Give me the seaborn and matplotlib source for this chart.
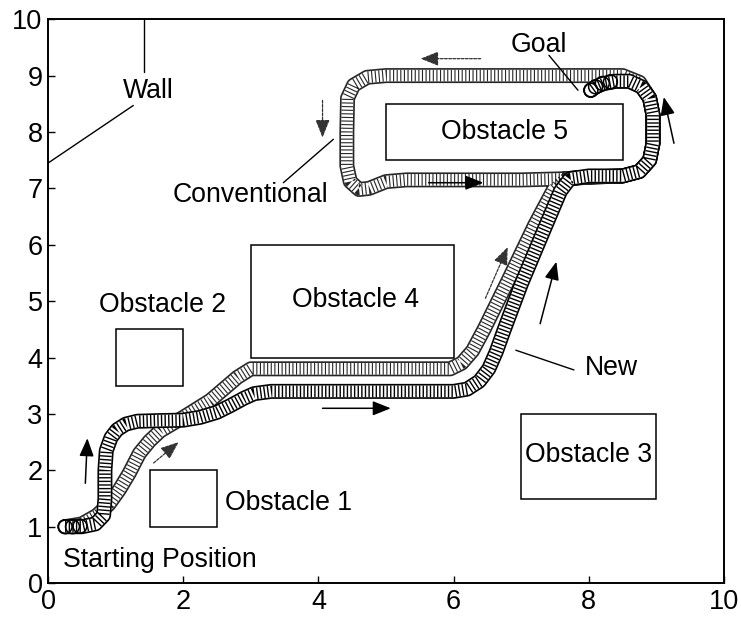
import matplotlib
matplotlib.use("Agg")
import matplotlib.pyplot as plt
import matplotlib.patches as patches
import seaborn as sns

# Obstacles: (x0, y0, width, height) and label position
obs_x = [1.5, 1.0, 7.0, 3.0, 5.0]
obs_y = [1.0, 3.5, 1.5, 4.0, 7.5]
obs_w = [1.0, 1.0, 2.0, 3.0, 3.5]
obs_h = [1.0, 1.0, 1.5, 2.0, 1.0]

# New trajectory (dark) waypoints
new_x = [0.25, 0.5, 0.7, 0.82, 0.84, 0.84, 0.86, 0.93, 1.02, 1.15, 1.32, 1.6, 2.0,
         2.25, 2.5, 2.7, 2.9, 3.05, 3.3, 4.0, 5.0, 6.0, 6.2, 6.38, 6.52, 6.63, 6.75,
         7.0, 7.35, 7.58, 7.72, 8.0, 8.5, 8.75, 8.9, 8.95, 8.95, 8.9, 8.78, 8.6,
         8.4, 8.22, 8.1, 8.03]
new_y = [1.0, 1.0, 1.05, 1.2, 1.5, 2.0, 2.35, 2.58, 2.72, 2.82, 2.87, 2.88, 2.89,
         2.94, 3.03, 3.15, 3.28, 3.36, 3.4, 3.4, 3.4, 3.4, 3.44, 3.58, 3.8, 4.1, 4.5,
         5.3, 6.3, 6.95, 7.17, 7.22, 7.22, 7.3, 7.5, 7.8, 8.3, 8.6, 8.8, 8.9,
         8.9, 8.86, 8.8, 8.74]

# Conventional trajectory (lighter) waypoints
conv_x = [0.25, 0.5, 0.72, 0.9, 1.05, 1.2, 1.35, 1.5, 1.66, 2.0, 2.4, 2.8, 3.0,
          3.2, 4.0, 5.0, 5.95, 6.12, 6.28, 6.45, 6.8, 7.2, 7.48, 7.65, 8.0, 8.5,
          8.75, 8.9, 8.95, 8.95, 8.9, 8.75, 8.5, 8.0, 7.0, 6.0, 5.0, 4.72, 4.52,
          4.43, 4.42, 4.42, 4.47, 4.6, 4.75, 5.0, 5.3, 6.0, 7.0, 7.65, 8.0, 8.5,
          8.75, 8.9, 8.95, 8.95, 8.9, 8.78, 8.6, 8.4, 8.22, 8.1, 8.03]
conv_y = [1.0, 1.05, 1.2, 1.4, 1.65, 1.95, 2.3, 2.52, 2.7, 2.94, 3.24, 3.65, 3.8,
          3.8, 3.8, 3.8, 3.8, 3.9, 4.12, 4.5, 5.35, 6.35, 6.98, 7.17, 7.2, 7.22,
          7.3, 7.5, 7.8, 8.3, 8.6, 8.88, 9.0, 9.0, 9.0, 9.0, 9.0, 8.97, 8.83,
          8.6, 8.0, 7.4, 7.12, 6.98, 7.0, 7.12, 7.15, 7.15, 7.15, 7.17, 7.2, 7.22,
          7.3, 7.5, 7.8, 8.3, 8.6, 8.8, 8.9, 8.9, 8.86, 8.8, 8.74]

# loose circles at the start and goal ends
end_x = [0.25, 0.36, 0.47, 8.03, 8.1, 8.2, 8.32]
end_y = [1.0, 1.0, 1.01, 8.74, 8.8, 8.86, 8.89]

# direction arrows: start -> end
new_arrows = [((0.55, 1.77), (0.58, 2.57)), ((4.06, 3.1), (5.07, 3.1)),
              ((7.28, 4.6), (7.52, 5.7)), ((9.26, 7.8), (9.11, 8.62)),
              ((5.63, 7.1), (6.44, 7.1))]
conv_arrows = [((1.56, 2.13), (1.93, 2.5)), ((6.47, 5.05), (6.8, 5.96)),
               ((6.4, 9.3), (5.51, 9.3)), ((4.06, 8.56), (4.06, 7.9))]

# pointer lines (label -> target)
pointers = [((1.26, 8.47), (0.0, 7.45)), ((1.42, 9.06), (1.42, 10.0)),
            ((3.48, 7.1), (4.22, 7.87)), ((7.41, 9.36), (7.84, 8.74)),
            ((7.78, 3.78), (6.92, 4.13))]

labels = ["Obstacle 1", "Obstacle 2", "Obstacle 3", "Obstacle 4", "Obstacle 5",
          "Wall", "Conventional", "Goal", "New", "Starting Position"]
label_x = [2.62, 1.69, 8.0, 4.55, 6.75, 1.48, 3.0, 7.26, 8.33, 1.66]
label_y = [1.42, 4.93, 2.27, 5.02, 8.0, 8.72, 6.88, 9.54, 3.81, 0.41]
label_ha = ["left", "center", "center", "center", "center", "center", "center",
            "center", "center", "center"]

sns.set_style("ticks")
plt.rcParams['font.family'] = ['Liberation Sans', 'DejaVu Sans']
plt.rcParams['lines.scale_dashes'] = False

fig = plt.figure(figsize=(7.41, 6.19), dpi=100)
ax = fig.add_axes([0.065, 0.058, 0.912, 0.911])


def draw_band(xs, ys, edge, ladder_lw, gap):
    sns.lineplot(x=xs, y=ys, sort=False, estimator=None, ax=ax, color=edge,
                 linewidth=10.8, solid_joinstyle='round', solid_capstyle='round')
    sns.lineplot(x=xs, y=ys, sort=False, estimator=None, ax=ax, color='white',
                 linewidth=8.4, solid_joinstyle='round', solid_capstyle='round')
    ax.plot(xs, ys, color=edge, linewidth=8.4,
            linestyle=(0, (ladder_lw, gap)), dash_capstyle='butt')


draw_band(conv_x, conv_y, '#262626', 0.8, 1.8)
draw_band(new_x, new_y, 'black', 1.0, 1.6)
sns.scatterplot(x=end_x, y=end_y, ax=ax, s=100, facecolor='none',
                edgecolor='black', linewidth=1.1, zorder=3)

for i in range(len(obs_x)):
    ax.add_patch(patches.Rectangle((obs_x[i], obs_y[i]), obs_w[i], obs_h[i],
                                   fill=False, edgecolor='black', linewidth=1.1))

for (s, e) in new_arrows:
    ax.annotate('', xy=e, xytext=s,
                arrowprops=dict(arrowstyle='-|>,head_length=0.55,head_width=0.22',
                                color='black', lw=1.1, shrinkA=0, shrinkB=0,
                                mutation_scale=20))
for (s, e) in conv_arrows:
    ax.annotate('', xy=e, xytext=s,
                arrowprops=dict(arrowstyle='-|>,head_length=0.55,head_width=0.22',
                                color='#333333', lw=0.9, ls=(0, (2, 1)),
                                shrinkA=0, shrinkB=0, mutation_scale=20))

for (s, e) in pointers:
    ax.plot([s[0], e[0]], [s[1], e[1]], color='black', linewidth=1.0)

for t, x, y, ha in zip(labels, label_x, label_y, label_ha):
    ax.text(x, y, t, ha=ha, va='center', fontsize=19.2, color='black')

ax.set_xlim(0, 10)
ax.set_ylim(0, 10)
ax.set_xticks([0, 2, 4, 6, 8, 10])
ax.set_yticks(range(0, 11))
ax.tick_params(direction='in', length=5, width=1, labelsize=19.5, pad=4,
               colors='black')
for sp in ax.spines.values():
    sp.set_linewidth(1.4)
    sp.set_color('black')

fig.savefig('out.png', dpi=100)
